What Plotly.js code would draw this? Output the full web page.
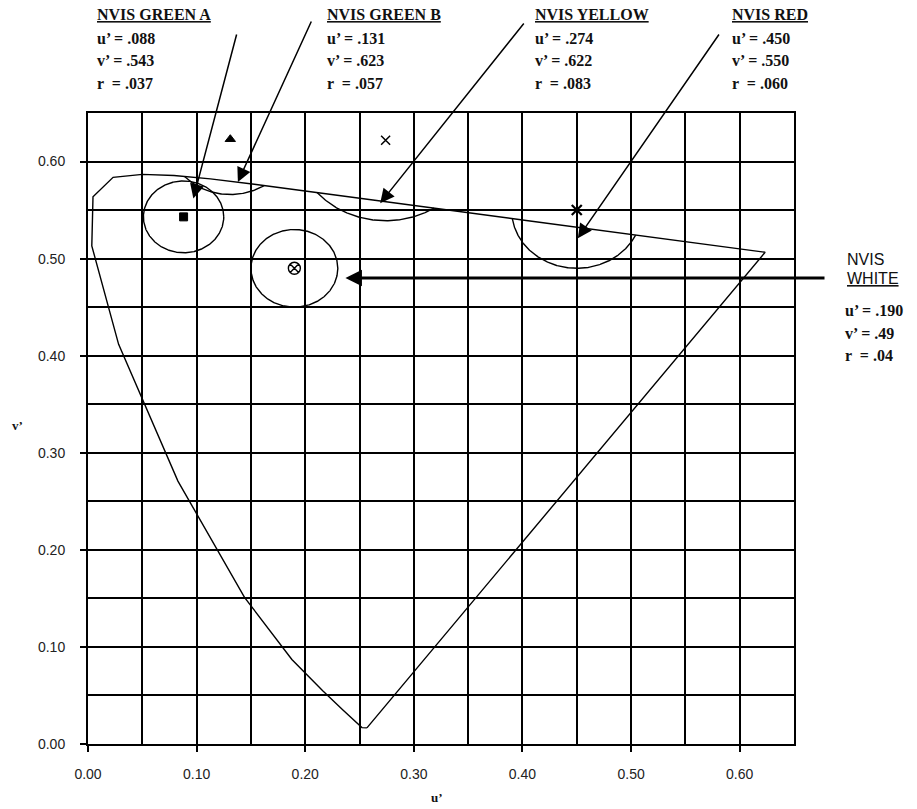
<!DOCTYPE html>
<html><head><meta charset="utf-8">
<script src="https://cdn.plot.ly/plotly-3.0.1.min.js"></script>
<style>html,body{margin:0;padding:0;background:#fff}</style>
</head><body><div id="chart" style="width:917px;height:809px"></div>
<script>
// Spectrum locus outline (u', v') (closed by the purple line)
const locusU = [0.2568, 0.2522, 0.2347, 0.2161, 0.1877, 0.1441, 0.0828, 0.0282, 0.0035, 0.0046, 0.0231, 0.0501, 0.0792, 0.1127, 0.1531, 0.2026, 0.2623, 0.4035, 0.6234, 0.2568];
const locusV = [0.0166, 0.0169, 0.0350, 0.0549, 0.0871, 0.1510, 0.2708, 0.4117, 0.5131, 0.5638, 0.5837, 0.5868, 0.5856, 0.5821, 0.5766, 0.5694, 0.5604, 0.5393, 0.5065, 0.0166];

// NVIS colour targets
const targetNames = ['NVIS GREEN A', 'NVIS GREEN B', 'NVIS YELLOW', 'NVIS RED', 'NVIS WHITE'];
const targetU = [0.088, 0.131, 0.274, 0.450, 0.190];
const targetV = [0.543, 0.623, 0.622, 0.550, 0.49];
const targetR = [0.037, 0.057, 0.083, 0.060, 0.04];
const uText = ['.088', '.131', '.274', '.450', '.190'];
const vText = ['.543', '.623', '.622', '.550', '.49'];
const rText = ['.037', '.057', '.083', '.060', '.04'];

// axis ticks
const tickVals = [0, 0.1, 0.2, 0.3, 0.4, 0.5, 0.6];
const tickText = ['0.00', '0.10', '0.20', '0.30', '0.40', '0.50', '0.60'];

// ---------- drawing ----------
const clipToLocus = [false, true, true, true, false];
const symbols = ['square', 'triangle-up', 'x-thin-open', 'x-thin-open', 'circle-x-open'];
const symSize = [8, 9, 9, 10, 12];
const symLine = [1, 1, 1.5, 2.2, 1.4];

function topOfLocus(u) {
  for (let i = 9; i < 18; i++) {
    const u0 = locusU[i], u1 = locusU[i + 1];
    if (u >= u0 && u <= u1) {
      const f = (u - u0) / (u1 - u0);
      return locusV[i] + f * (locusV[i + 1] - locusV[i]);
    }
  }
  return Infinity;
}

function circleTrace(k) {
  const cx = targetU[k], cy = targetV[k], r = targetR[k];
  const xs = [], ys = [];
  const N = 720;
  const ok = t => !clipToLocus[k] || (cy + r * Math.sin(t) <= topOfLocus(cx + r * Math.cos(t)));
  let prev = null, prevT = null;
  for (let i = 0; i <= N; i++) {
    const t = 2 * Math.PI * i / N;
    const cur = ok(t);
    if (prev !== null && cur !== prev) {
      let a = prevT, b = t;
      for (let j = 0; j < 40; j++) { const m = (a + b) / 2; if (ok(m) === prev) a = m; else b = m; }
      const tm = (a + b) / 2;
      xs.push(cx + r * Math.cos(tm)); ys.push(cy + r * Math.sin(tm));
      if (!cur) { xs.push(null); ys.push(null); }
    }
    if (cur) { xs.push(cx + r * Math.cos(t)); ys.push(cy + r * Math.sin(t)); }
    prev = cur; prevT = t;
  }
  return { x: xs, y: ys, type: 'scatter', mode: 'lines', line: { color: '#000', width: 1.4 }, hoverinfo: 'skip', connectgaps: false };
}

const traces = [];
traces.push({ x: locusU, y: locusV, type: 'scatter', mode: 'lines', line: { color: '#000', width: 1.4 }, hoverinfo: 'skip' });
for (let k = 0; k < targetU.length; k++) traces.push(circleTrace(k));
for (let k = 0; k < targetU.length; k++) {
  traces.push({
    x: [targetU[k]], y: [targetV[k]], type: 'scatter', mode: 'markers', name: targetNames[k],
    marker: { symbol: symbols[k], size: symSize[k], color: '#000', line: { color: '#000', width: symLine[k] } }
  });
}

// plot box in pixels
const L = 88, R = 794, T = 113, B = 744;
const W = 917, H = 809;
const px = x => (x - L) / (R - L);
const py = y => (B - y) / (B - T);
const xs = (R - L) / 0.65, ys = (B - T) / 0.65;
const toPx = u => L + u * xs, toPy = v => B - v * ys;

const ann = [];
// arrows: tip in data coords, tail in pixels
const arrowTipU = [0.097, 0.138, 0.269, 0.451, 0.237];
const arrowTipV = [0.562, 0.579, 0.557, 0.521, 0.480];
const tailPx = [[237, 33], [312, 20], [525, 22], [720, 33], [826, 278]];
for (let k = 0; k < 5; k++) {
  const tx = toPx(arrowTipU[k]), ty = toPy(arrowTipV[k]);
  const white = k === 4;
  ann.push({
    x: arrowTipU[k], y: arrowTipV[k], xref: 'x', yref: 'y', text: '', showarrow: true,
    ax: tailPx[k][0] - tx, ay: tailPx[k][1] - ty, axref: 'pixel', ayref: 'pixel',
    arrowhead: 2, arrowsize: white ? 1.1 : 1.9, arrowwidth: white ? 3 : 1.5, arrowcolor: '#000', standoff: 0
  });
}
// label blocks
const serif = { family: 'Liberation Serif, Times New Roman, serif', size: 16, color: '#111' };
const blockX = [95, 325, 533, 730];
const rowY = [15, 38, 61, 83];
for (let k = 0; k < 4; k++) {
  const lines = ['<b><u>' + targetNames[k] + '</u></b>', '<b>u\u2019 = ' + uText[k] + '</b>', '<b>v\u2019 = ' + vText[k] + '</b>', '<b>r \u00a0= ' + rText[k] + '</b>'];
  lines.forEach((t, j) => ann.push({ x: px(blockX[k]), y: py(rowY[j]), xref: 'paper', yref: 'paper', xanchor: 'left', yanchor: 'middle', text: t, showarrow: false, font: serif }));
}
// white block
const sans = { family: 'Liberation Sans, Arial, sans-serif', size: 16, color: '#111' };
ann.push({ x: px(845), y: py(259), xref: 'paper', yref: 'paper', xanchor: 'left', yanchor: 'middle', text: 'NVIS', showarrow: false, font: sans });
ann.push({ x: px(845), y: py(278), xref: 'paper', yref: 'paper', xanchor: 'left', yanchor: 'middle', text: '<u>WHITE</u>', showarrow: false, font: sans });
const wLines = ['u\u2019 = ' + uText[4], 'v\u2019 = ' + vText[4], 'r \u00a0= ' + rText[4]];
const wRows = [310, 333, 355];
wLines.forEach((t, j) => ann.push({ x: px(843), y: py(wRows[j]), xref: 'paper', yref: 'paper', xanchor: 'left', yanchor: 'middle', text: '<b>' + t + '</b>', showarrow: false, font: serif }));
// axis titles
ann.push({ x: px(437), y: py(797), xref: 'paper', yref: 'paper', xanchor: 'center', yanchor: 'middle', text: '<b>u\u2019</b>', showarrow: false, font: { family: 'Liberation Serif, serif', size: 13, color: '#111' } });
ann.push({ x: px(17), y: py(425), xref: 'paper', yref: 'paper', xanchor: 'center', yanchor: 'middle', text: '<b>v\u2019</b>', showarrow: false, font: { family: 'Liberation Serif, serif', size: 13, color: '#111' } });

const axisCommon = {
  range: [0, 0.65], tickmode: 'array', tickvals: tickVals, ticktext: tickText,
  showgrid: true, gridcolor: '#000', gridwidth: 2,
  minor: { tickmode: 'linear', tick0: 0, dtick: 0.05, showgrid: true, gridcolor: '#000', gridwidth: 2, ticks: '' },
  showline: true, mirror: true, linecolor: '#000', linewidth: 2,
  ticks: 'outside', ticklen: 6, tickwidth: 2, tickcolor: '#000',
  zeroline: false, fixedrange: true,
  tickfont: { family: 'Liberation Sans, Arial, sans-serif', size: 14, color: '#222' }
};

const layout = {
  width: W, height: H,
  margin: { l: L, r: W - R, t: T, b: H - B, pad: 0 },
  paper_bgcolor: '#fff', plot_bgcolor: '#fff',
  showlegend: false,
  xaxis: Object.assign({}, axisCommon, { ticklabelstandoff: 10 }),
  yaxis: Object.assign({}, axisCommon, { ticklabelstandoff: 12 }),
  annotations: ann
};

Plotly.newPlot('chart', traces, layout, { staticPlot: true, displayModeBar: false });
</script>
</body></html>
